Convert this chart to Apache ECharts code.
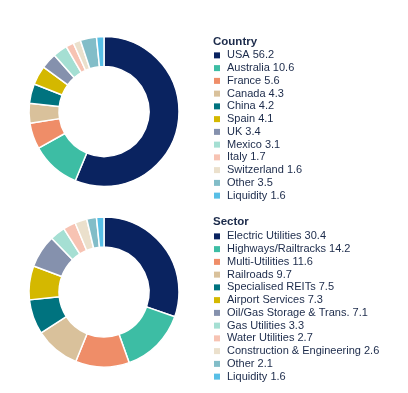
<!DOCTYPE html>
<html><head><meta charset="utf-8">
<script src="https://cdn.jsdelivr.net/npm/echarts@6/dist/echarts.min.js"></script>
<style>html,body{margin:0;padding:0;background:#fff}#c{width:408px;height:393px}</style>
</head><body><div id="c"></div>
<script>
const countryNames = ['USA','Australia','France','Canada','China','Spain','UK','Mexico','Italy','Switzerland','Other','Liquidity'];
const countryValues = [56.2,10.6,5.6,4.3,4.2,4.1,3.4,3.1,1.7,1.6,3.5,1.6];
const sectorNames = ['Electric Utilities','Highways/Railtracks','Multi-Utilities','Railroads','Specialised REITs','Airport Services','Oil/Gas Storage & Trans.','Gas Utilities','Water Utilities','Construction & Engineering','Other','Liquidity'];
const sectorValues = [30.4,14.2,11.6,9.7,7.5,7.3,7.1,3.3,2.7,2.6,2.1,1.6];
const palette = ['#0a2360','#3dbda4','#ef8d68','#d9c19b','#00737f','#d4b800','#8591ad','#a5dfd3','#f7c3b3','#ebe0cc','#82bdc8','#58bfe6'];

const textColor = '#1b2a4a';
const font = 'Liberation Sans, Arial, sans-serif';
function mk(names, vals){ return names.map((n,i)=>({name:n+' '+vals[i].toFixed(1), value:vals[i], itemStyle:{color:palette[i]}})); }
const cData = mk(countryNames,countryValues);
const sData = mk(sectorNames,sectorValues);

function legend(data, top){
  return {orient:'vertical', left:214, top:top, itemWidth:6, itemHeight:6, itemGap:0,
    selectedMode:false, data:data.map(d=>({name:d.name, icon:'rect'})),
    itemStyle:{borderWidth:0},
    textStyle:{color:textColor, fontSize:11, lineHeight:12.75, fontFamily:font, padding:[0,0,0,2]}, padding:0};
}
function pie(data, cy){
  return {type:'pie', center:[104,cy], radius:[45,75], startAngle:90, clockwise:true, silent:true,
    label:{show:false}, labelLine:{show:false}, itemStyle:{borderColor:'#fff', borderWidth:1.5}, data:data, animation:false};
}
const chart = echarts.init(document.getElementById('c'));
chart.setOption({
  animation:false,
  title:[
    {text:'Country', left:213, top:36, padding:0, textStyle:{color:textColor, fontSize:11.5, fontWeight:'bold', fontFamily:font}},
    {text:'Sector', left:213, top:216, padding:0, textStyle:{color:textColor, fontSize:11.5, fontWeight:'bold', fontFamily:font}}
  ],
  legend:[legend(cData,49), legend(sData,230)],
  series:[pie(cData,111.5), pie(sData,292)]
});
</script></body></html>
